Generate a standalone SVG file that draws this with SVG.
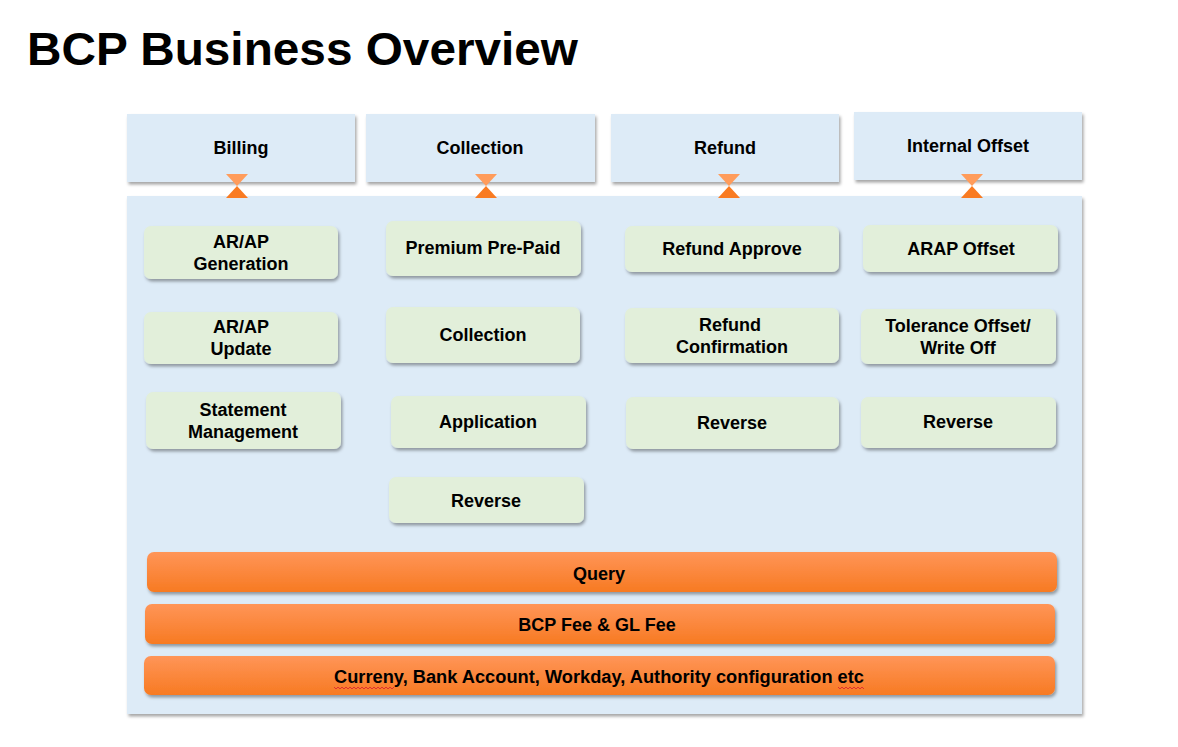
<svg xmlns="http://www.w3.org/2000/svg" width="1178" height="747" viewBox="0 0 1178 747">
<defs>
<filter id="sh" x="-10%" y="-20%" width="120%" height="150%">
<feDropShadow dx="1.5" dy="2.5" stdDeviation="1.5" flood-color="#000" flood-opacity="0.35"/>
</filter>
<linearGradient id="og" x1="0" y1="0" x2="0" y2="1">
<stop offset="0" stop-color="#FF9558"/>
<stop offset="1" stop-color="#F77A22"/>
</linearGradient>
<style>
.t{font-family:"Liberation Sans",Arial,sans-serif;font-weight:bold;font-size:18px;fill:#000;text-anchor:middle}
.hd{fill:#DDEBF7;filter:url(#sh)}
.bx{fill:#E2EFDA;filter:url(#sh)}
.bar{fill:url(#og);filter:url(#sh)}
.tu{fill:#FF9C5B}
.td{fill:#F97B22}
.sq{fill:none;stroke:#E03030;stroke-width:1}
</style>
</defs>
<rect width="1178" height="747" fill="#fff"/>
<text x="27" y="65" font-family="Liberation Sans,Arial,sans-serif" font-weight="bold" font-size="47" fill="#000" textLength="551" lengthAdjust="spacingAndGlyphs">BCP Business Overview</text>

<g id="panel"><rect x="127" y="196" width="955" height="518" class="hd"/></g>

<g id="h-billing"><rect x="127" y="114" width="228" height="68" class="hd"/><text class="t" x="241" y="154">Billing</text></g>
<g id="h-collection"><rect x="366" y="114" width="229" height="68" class="hd"/><text class="t" x="480" y="154">Collection</text></g>
<g id="h-refund"><rect x="611" y="114" width="228" height="68" class="hd"/><text class="t" x="725" y="154">Refund</text></g>
<g id="h-offset"><rect x="854" y="112" width="228" height="68" class="hd"/><text class="t" x="968" y="152">Internal Offset</text></g>

<g id="connectors">
<polygon class="tu" points="226,174 248,174 237,186"/><polygon class="td" points="226,198 248,198 237,186"/>
<polygon class="tu" points="475,174 497,174 486,186"/><polygon class="td" points="475,198 497,198 486,186"/>
<polygon class="tu" points="718,174 740,174 729,186"/><polygon class="td" points="718,198 740,198 729,186"/>
<polygon class="tu" points="961,174 983,174 972,186"/><polygon class="td" points="961,198 983,198 972,186"/>
</g>

<g id="b1"><rect x="144" y="226" width="194" height="53" rx="7" class="bx"/><text class="t" x="241" y="248">AR/AP</text><text class="t" x="241" y="270">Generation</text></g>
<g id="b2"><rect x="144" y="312" width="194" height="52" rx="7" class="bx"/><text class="t" x="241" y="333">AR/AP</text><text class="t" x="241" y="355">Update</text></g>
<g id="b3"><rect x="146" y="392" width="195" height="57" rx="7" class="bx"/><text class="t" x="243" y="416">Statement</text><text class="t" x="243" y="438">Management</text></g>

<g id="c1"><rect x="386" y="221" width="195" height="55" rx="7" class="bx"/><text class="t" x="483" y="254">Premium Pre-Paid</text></g>
<g id="c2"><rect x="386" y="307" width="194" height="56" rx="7" class="bx"/><text class="t" x="483" y="341">Collection</text></g>
<g id="c3"><rect x="391" y="396" width="195" height="52" rx="7" class="bx"/><text class="t" x="488" y="428">Application</text></g>
<g id="c4"><rect x="389" y="477" width="195" height="46" rx="7" class="bx"/><text class="t" x="486" y="507">Reverse</text></g>

<g id="r1"><rect x="625" y="226" width="214" height="46" rx="7" class="bx"/><text class="t" x="732" y="255">Refund Approve</text></g>
<g id="r2"><rect x="625" y="308" width="214" height="55" rx="7" class="bx"/><text class="t" x="730" y="331">Refund</text><text class="t" x="732" y="353">Confirmation</text></g>
<g id="r3"><rect x="626" y="397" width="213" height="52" rx="7" class="bx"/><text class="t" x="732" y="429">Reverse</text></g>

<g id="o1"><rect x="863" y="225" width="195" height="47" rx="7" class="bx"/><text class="t" x="961" y="255">ARAP Offset</text></g>
<g id="o2"><rect x="861" y="309" width="195" height="55" rx="7" class="bx"/><text class="t" x="958" y="332">Tolerance Offset/</text><text class="t" x="958" y="354">Write Off</text></g>
<g id="o3"><rect x="861" y="397" width="195" height="51" rx="7" class="bx"/><text class="t" x="958" y="428">Reverse</text></g>

<g id="query"><rect x="147" y="552" width="910" height="40" rx="7" class="bar"/><text class="t" x="599" y="580">Query</text></g>
<g id="fee"><rect x="145" y="604" width="910" height="40" rx="7" class="bar"/><text class="t" x="597" y="631">BCP Fee &amp; GL Fee</text></g>
<g id="config"><rect x="144" y="656" width="911" height="39" rx="7" class="bar"/><text class="t" x="599" y="683" textLength="530" lengthAdjust="spacingAndGlyphs">Curreny, Bank Account, Workday, Authority configuration etc</text>
<path class="sq" d="M334,687 l2,2 l2,-2 l2,2 l2,-2 l2,2 l2,-2 l2,2 l2,-2 l2,2 l2,-2 l2,2 l2,-2 l2,2 l2,-2 l2,2 l2,-2 l2,2 l2,-2 l2,2 l2,-2 l2,2 l2,-2 l2,2 l2,-2 l2,2 l2,-2 l2,2 l2,-2 l2,2 l2,-2"/>
<path class="sq" d="M838,687 l2,2 l2,-2 l2,2 l2,-2 l2,2 l2,-2 l2,2 l2,-2 l2,2 l2,-2 l2,2 l2,-2 l2,2"/>
</g>
</svg>
